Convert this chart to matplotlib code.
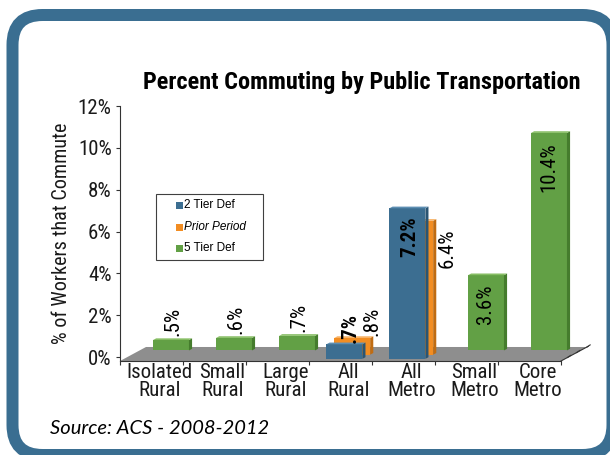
import matplotlib
matplotlib.use("Agg")
import matplotlib.pyplot as plt
from matplotlib.patches import Polygon, FancyBboxPatch, Rectangle
from matplotlib import font_manager

# ---- data -------------------------------------------------------------
categories = ["Isolated\nRural", "Small\nRural", "Large\nRural", "All\nRural",
              "All\nMetro", "Small\nMetro", "Core\nMetro"]
series_names = ["2 Tier Def", "Prior Period", "5 Tier Def"]
tier2 = [None, None, None, 0.7, 7.2, None, None]      # front row
prior = [None, None, None, 0.8, 6.4, None, None]      # middle row
tier5 = [0.5, 0.6, 0.7, None, None, 3.6, 10.4]        # back row
y_ticks = [0, 2, 4, 6, 8, 10, 12]
y_tick_labels = ["0%", "2%", "4%", "6%", "8%", "10%", "12%"]
title = "Percent Commuting by Public Transportation"
y_title = "% of Workers that Commute"
source = "Source: ACS - 2008-2012"

# ---- fonts ------------------------------------------------------------
installed = {f.name for f in font_manager.fontManager.ttflist}
for cand in ["Liberation Sans Narrow", "Roboto Condensed", "Liberation Sans"]:
    if cand in installed:
        NARROW = cand
        break
else:
    NARROW = "DejaVu Sans"
REG = "Liberation Sans" if "Liberation Sans" in installed else "DejaVu Sans"
SRC = "Lato" if "Lato" in installed else REG

# ---- figure -----------------------------------------------------------
W, H, DPI = 610, 455, 100
fig = plt.figure(figsize=(W / DPI, H / DPI), dpi=DPI, facecolor="white")

# pixel-space backdrop with rounded frame
bg = fig.add_axes([0, 0, 1, 1], zorder=0)
bg.set_xlim(0, W)
bg.set_ylim(H, 0)
bg.axis("off")
frame = FancyBboxPatch((12.5, 15), 600, 440,
                       boxstyle="round,pad=0,rounding_size=30",
                       linewidth=12 * 72 / DPI, edgecolor="#3a6e91",
                       facecolor="white", clip_on=False)
bg.add_patch(frame)

# chart axes: x in category units, y in percent
left_px, right_px, floor_px, top_px = 120, 590, 361, 106
Y_FLOOR = -0.19
ax = fig.add_axes([left_px / W, (H - floor_px) / H,
                   (right_px - left_px) / W, (floor_px - top_px) / H], zorder=1)
ax.patch.set_alpha(0)
ax.set_xlim(0, (right_px - left_px) / 63.0)
ax.set_ylim(Y_FLOOR, 12)

for s in ["top", "right"]:
    ax.spines[s].set_visible(False)
ax.spines["left"].set_color("#333333")
ax.spines["left"].set_linewidth(0.8)
ax.spines["bottom"].set_color("#333333")
ax.spines["bottom"].set_linewidth(0.8)
ax.spines["bottom"].set_bounds(0, len(categories))

ax.set_yticks(y_ticks)
ax.set_yticklabels(y_tick_labels, fontfamily=NARROW, fontsize=15, color="#1a1a1a")
ax.tick_params(axis="y", direction="out", length=3, width=0.8, pad=3, color="#333333")
ax.set_xticks(range(len(categories) + 1))
ax.set_xticklabels([])
ax.tick_params(axis="x", direction="out", length=3, width=0.8, color="#333333")

ax.set_ylabel(y_title, fontfamily=NARROW, fontsize=14.5, color="#1a1a1a")
ax.yaxis.set_label_coords(-0.104, 0.50)

# pseudo-3D geometry
DX, DY = 26 / 63.0, 14 / 20.9         # full depth vector (data units)
BAR_W, BAR_T = 0.57, 0.12            # face width, bar thickness (depth fraction)
ROWS = {"front": 0.15, "mid": 0.45, "back": 0.75}

n = len(categories)
floor = Polygon([(0, Y_FLOOR), (n, Y_FLOOR), (n + DX, Y_FLOOR + DY), (DX, Y_FLOOR + DY)],
                closed=True, facecolor="#8e8e8e", edgecolor="none", zorder=1)
ax.add_patch(floor)
# depth edge on right with small ticks
ax.plot([n, n + DX * 1.05], [Y_FLOOR, Y_FLOOR + DY * 1.05], color="#333333", lw=0.8,
        clip_on=False, zorder=2)
for f in (0.25, 0.6, 1.0):
    xx, yy = n + DX * f, Y_FLOOR + DY * f
    ax.plot([xx, xx + 0.05], [yy, yy + 0.1], color="#333333", lw=0.8, clip_on=False, zorder=2)


def draw_bar(i, v, row, face, side, top, z):
    f = ROWS[row]
    x0 = i + 0.5 - BAR_W / 2 + f * DX
    x1 = x0 + BAR_W
    y0 = Y_FLOOR + f * DY
    y1 = y0 + v
    tx, ty = BAR_T * DX, BAR_T * DY
    ax.add_patch(Rectangle((x0, y0), BAR_W, v, facecolor=face, edgecolor="none",
                           zorder=z, clip_on=False))
    ax.add_patch(Polygon([(x1, y0), (x1, y1), (x1 + tx, y1 + ty), (x1 + tx, y0 + ty)],
                         facecolor=side, edgecolor="none", zorder=z, clip_on=False))
    ax.add_patch(Polygon([(x0, y1), (x1, y1), (x1 + tx, y1 + ty), (x0 + tx, y1 + ty)],
                         facecolor=top, edgecolor="none", zorder=z, clip_on=False))
    return (x0 + x1) / 2, y1


def fmt(v):
    s = f"{v:.1f}%"
    return s[1:] if s.startswith("0.") else s


def label(xc, ytop, v, dx, dy, va, bold=False):
    ax.annotate(fmt(v), (xc, ytop), xytext=(dx * 0.72, dy * 0.72),
                textcoords="offset points", rotation=90, ha="center", va=va,
                fontfamily=NARROW, fontsize=15, color="black",
                fontweight="bold" if bold else "normal", zorder=20,
                annotation_clip=False)


green = ("#62a045", "#457c2d", "#86bd63")
orange = ("#f28d22", "#c06c12", "#f7b061")
blue = ("#3c6e91", "#2a5573", "#5d8eb2")

tops5 = {}
for i, v in enumerate(tier5):
    if v is not None:
        tops5[i] = draw_bar(i, v, "back", *green, z=3)
topsp = {}
for i, v in enumerate(prior):
    if v is not None:
        topsp[i] = draw_bar(i, v, "mid", *orange, z=4)
tops2 = {}
for i, v in enumerate(tier2):
    if v is not None:
        tops2[i] = draw_bar(i, v, "front", *blue, z=5)

for i, (xc, yt) in tops5.items():
    v = tier5[i]
    if v < 1:
        label(xc, yt, v, 2, 4, "bottom")
    else:
        label(xc, yt, v, 0, -9, "top")
for i, (xc, yt) in topsp.items():
    v = prior[i]
    if v < 1:
        label(xc, yt, v, 20, 2, "bottom")
    else:
        label(xc, yt, v, 32, -8, "top")
for i, (xc, yt) in tops2.items():
    v = tier2[i]
    if v < 1:
        label(xc, yt, v, 6, 1, "bottom", bold=True)
    else:
        label(xc, yt, v, 2, -8, "top", bold=True)

# category labels under the front edge
for i, name in enumerate(categories):
    ax.annotate(name, (i + 0.5, Y_FLOOR), xytext=(8 * 0.72, -2 * 0.72),
                textcoords="offset points", ha="center", va="top",
                fontfamily=NARROW, fontsize=15, color="#1a1a1a",
                linespacing=0.92, annotation_clip=False)

# legend drawn in pixel space
bg.add_patch(Rectangle((155.5, 193.5), 107, 66, facecolor="white",
                       edgecolor="#404040", linewidth=0.8))
legend_rows = [(205, blue[0], series_names[0], "normal"),
               (227, orange[0], series_names[1], "italic"),
               (248, green[0], series_names[2], "normal")]
for yy, c, txt, style in legend_rows:
    bg.add_patch(Rectangle((176, yy - 3.5), 7, 7, facecolor=c, edgecolor="none"))
    bg.text(184.5, yy, txt, ha="left", va="center", fontfamily=REG,
            fontsize=8.5, style=style, color="black")

# title and source
bg.text(361.5, 83, title, ha="center", va="center", fontfamily=NARROW,
        fontsize=17.5, fontweight="bold", color="black")
bg.text(50, 428, source, ha="left", va="center", fontfamily=SRC,
        fontsize=14.5, style="italic", color="black")

fig.savefig("out.png", dpi=DPI, facecolor="white")
